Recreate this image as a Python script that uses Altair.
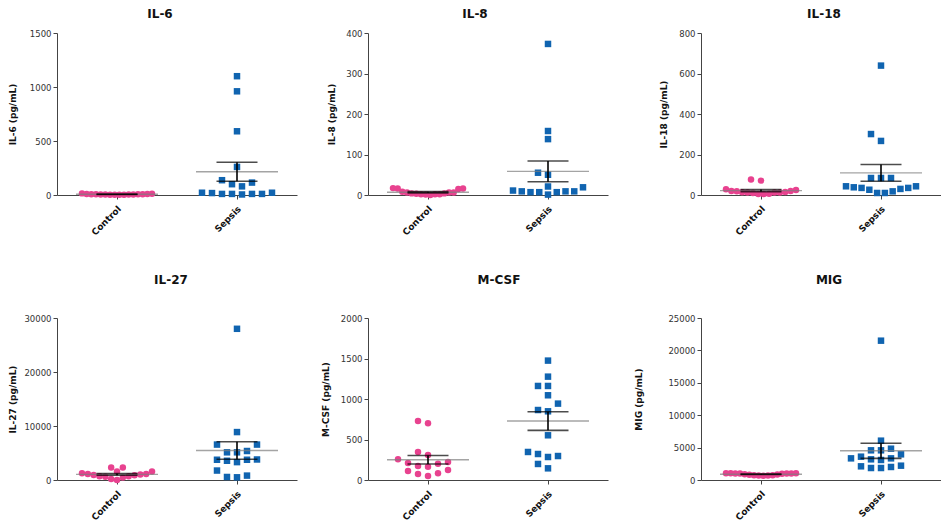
import altair as alt
import pandas as pd
import numpy as np

# ---------------- data (pg/mL) ----------------
groups = ["Control", "Sepsis"]

il6_control = [12, 5, 3, 8, 2, 6, 4, 10, 15, 3, 5, 2, 7, 4, 6, 9]
il6_sepsis = [1100, 960, 590, 260, 137, 115, 100, 80, 21, 10, 10, 5, 21, 10, 10, 18]

il8_control = [17, 4, 15, 2, 6, 2, 6, 0, 16, 2, 1, 6, 3, 8, 4, 16]
il8_sepsis = [373, 158, 138, 55, 50, 9, 9, 7, 21, 1, 11, 7, 19, 7, 9]

il18_control = [76, 71, 15, 20, 12, 18, 25, 10, 5, 12, 6, 14, 5, 20, 12, 28]
il18_sepsis = [639, 301, 267, 84, 84, 84, 35, 30, 18, 43, 10, 38, 10, 43, 26, 35]

il27_control = [940, 1560, 700, 2310, 2310, 1000, 600, 1100, 0, 900, 200, 1100, 700, 1250, 440, 1560]
il27_sepsis = [28000, 8875, 6560, 6560, 5370, 5125, 5125, 3750, 3560, 3310, 3750, 3800, 1750, 815, 500, 560]

mcsf_control = [729, 700, 346, 309, 255, 222, 202, 173, 210, 165, 123, 82, 49, 74, 111]
mcsf_sepsis = [1474, 1276, 1161, 1161, 1046, 943, 864, 848, 552, 346, 296, 284, 321, 144, 198]

mig_control = [1050, 1000, 700, 1050, 750, 950, 1050, 700, 1000, 850, 650, 1000, 750, 1000, 800, 900]
mig_sepsis = [21500, 6070, 4580, 4580, 4830, 3960, 3600, 3340, 3340, 3190, 3090, 2210, 2010, 1850, 1850, 2110]

panel_titles = ["IL-6", "IL-8", "IL-18", "IL-27", "M-CSF", "MIG"]
axis_titles = ["IL-6 (pg/mL)", "IL-8 (pg/mL)", "IL-18 (pg/mL)", "IL-27 (pg/mL)", "M-CSF (pg/mL)", "MIG (pg/mL)"]
y_max = [1500, 400, 800, 30000, 2000, 25000]
y_step = [500, 100, 200, 10000, 500, 5000]
controls = [il6_control, il8_control, il18_control, il27_control, mcsf_control, mig_control]
sepsis = [il6_sepsis, il8_sepsis, il18_sepsis, il27_sepsis, mcsf_sepsis, mig_sepsis]

# ---------------- styling / layout ----------------
FONT = "DejaVu Sans"
PINK = "#e8428f"
BLUE = "#1064b0"
PW, PH = 240, 162
# per panel: y-axis extent, title padding, panel-title dx, panel-title offset
ext = [30, 22, 22, 34, 28, 34]
tpad = [10, 10, 11, 6, 10, 24]
tdx = [-17, -13, 3, -6, 11, 8]
toff = [8, 8, 8, 27, 27, 27]
gaps_row1 = [30, 51]
gaps_row2 = [24, 26]


def swarm(vals, ymax, H=PH, step=10.0, D=8.0, W=35.0):
    """Prism-like column scatter: pixel x-offsets for each value."""
    px = [v / ymax * H for v in vals]
    n = len(vals)
    order = sorted(range(n), key=lambda i: px[i])
    seq = [0]
    for j in range(1, 40):
        seq += [-j, j]
    col = [0] * n
    placed = []
    for i in order:
        for k in seq:
            if all(not (c == k and abs(px[i] - p) < D) for c, p in placed):
                break
        col[i] = k
        placed.append((k, px[i]))
    clusters, cur, prev = [], [], None
    for i in order:
        if prev is not None and px[i] - px[prev] >= D:
            clusters.append(cur)
            cur = []
        cur.append(i)
        prev = i
    clusters.append(cur)
    off = [0.0] * n
    for cl in clusters:
        ks = [col[i] for i in cl]
        half = max(abs(k) for k in ks) * step
        if half > W:
            c = (min(ks) + max(ks)) / 2.0
            half = max(abs(k - c) for k in ks) * step
            s = W / half
            for i in cl:
                off[i] = (col[i] - c) * step * s
        else:
            for i in cl:
                off[i] = col[i] * step
    return off


def panel(idx):
    ymax = y_max[idx]
    rows, stats = [], []
    for g, (name, vals) in enumerate(zip(groups, [controls[idx], sepsis[idx]])):
        offs = swarm(vals, ymax)
        for v, o in zip(vals, offs):
            rows.append({"grp": name, "x": g + o / (PW / 2.0), "v": v})
        arr = np.array(vals, dtype=float)
        m = arr.mean()
        se = arr.std(ddof=1) / np.sqrt(len(arr))
        stats.append({"g": g, "mean": m, "lo": m - se, "hi": m + se})
    df = pd.DataFrame(rows)
    st = pd.DataFrame(stats)

    xscale = alt.Scale(domain=[-0.5, 1.5], nice=False, zero=False)
    yscale = alt.Scale(domain=[0, ymax], nice=False)
    xaxis = alt.Axis(values=[0, 1], labelExpr="datum.value == 0 ? 'Control' : 'Sepsis'",
                     title=None, labelAngle=-45, labelAlign="right", labelBaseline="middle",
                     labelPadding=8, labelOffset=2, labelFontWeight="bold", labelFontSize=9,
                     labelColor="#111", grid=False, tickSize=4, labelOverlap=False)
    yaxis = alt.Axis(values=list(range(0, ymax + 1, y_step[idx])), format="d",
                     title=axis_titles[idx], titlePadding=tpad[idx],
                     minExtent=ext[idx], maxExtent=ext[idx], grid=False, tickSize=4,
                     labelPadding=2, labelFontSize=8.5)

    pts = alt.Chart(df).mark_point(filled=True, opacity=1, strokeWidth=0).encode(
        x=alt.X("x:Q", scale=xscale, axis=xaxis),
        y=alt.Y("v:Q", scale=yscale, axis=yaxis),
        color=alt.Color("grp:N", scale=alt.Scale(domain=groups, range=[PINK, BLUE]), legend=None),
        shape=alt.Shape("grp:N", scale=alt.Scale(domain=groups, range=["circle", "square"]), legend=None),
        size=alt.Size("grp:N", scale=alt.Scale(domain=groups, range=[42, 42]), legend=None),
    )
    bx = alt.X("g:Q", scale=xscale, axis=xaxis)
    mean = alt.Chart(st).mark_tick(orient="horizontal", size=82, thickness=1.4, color="#7d7d7d").encode(
        x=bx, y=alt.Y("mean:Q", scale=yscale, axis=yaxis))
    whi = alt.Chart(st).mark_tick(orient="horizontal", size=41, thickness=1.6, color="#000000").encode(
        x=bx, y=alt.Y("hi:Q", scale=yscale, axis=yaxis))
    wlo = alt.Chart(st).mark_tick(orient="horizontal", size=41, thickness=1.6, color="#000000").encode(
        x=bx, y=alt.Y("lo:Q", scale=yscale, axis=yaxis))
    vert = alt.Chart(st).mark_rule(color="#000000", strokeWidth=1.6).encode(
        x=bx, y=alt.Y("lo:Q", scale=yscale, axis=yaxis), y2="hi:Q")

    return alt.layer(pts, mean, vert, whi, wlo).properties(
        width=PW, height=PH,
        title=alt.TitleParams(panel_titles[idx], dx=tdx[idx], offset=toff[idx]),
    )


def spacer(w):
    return alt.Chart(pd.DataFrame({"s": [0]})).mark_rule(strokeOpacity=0, strokeWidth=0).encode(
        x=alt.value(0), y=alt.value(0), y2=alt.value(1)
    ).properties(width=w, height=10)


p = [panel(i) for i in range(6)]
row1 = alt.hconcat(p[0], spacer(gaps_row1[0]), p[1], spacer(gaps_row1[1]), p[2], spacing=0)
row2 = alt.hconcat(p[3], spacer(gaps_row2[0]), p[4], spacer(gaps_row2[1]), p[5], spacing=0)

chart = alt.vconcat(row1, row2, spacing=37).properties(
    padding={"left": 0, "top": 0, "right": 0, "bottom": 0}
).configure_view(stroke=None).configure_axis(
    labelFont=FONT, titleFont=FONT, domainColor="#444444", tickColor="#444444",
    labelColor="#333333", titleColor="#111111", titleFontSize=9, titleFontWeight="bold",
    domainWidth=1, tickWidth=1,
).configure_title(font=FONT, fontSize=12, fontWeight="bold", color="#111111", anchor="middle")

chart.save("out.html", embed_options={"renderer": "svg", "actions": False})
